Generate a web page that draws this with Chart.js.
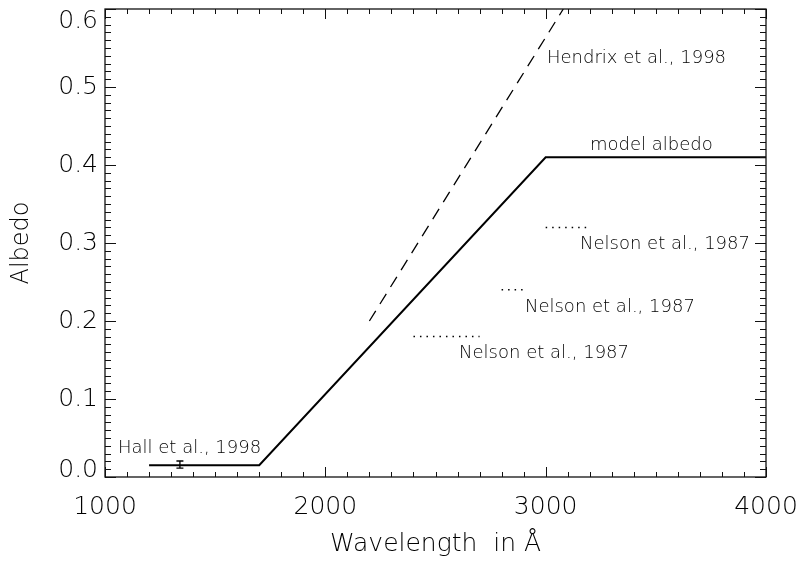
<!DOCTYPE html>
<html>
<head>
<meta charset="utf-8">
<script src="https://cdn.jsdelivr.net/npm/chart.js@4/dist/chart.umd.min.js"></script>
<style>
  html, body { margin: 0; padding: 0; background: #fff; overflow: hidden; }
  #wrap { width: 805px; height: 565px; position: relative; }
</style>
</head>
<body>
<div id="wrap"><canvas id="albedo-chart"></canvas></div>
<script>
// --- Data ---
const modelX = [1200, 1700, 3000, 4000];
const modelY = [0.015, 0.015, 0.41, 0.41];

const hendrixX = [2200, 3080];
const hendrixY = [0.2, 0.6];

const nelsonX1 = [3000, 3200];
const nelsonY1 = [0.32, 0.32];
const nelsonX2 = [2800, 2900];
const nelsonY2 = [0.24, 0.24];
const nelsonX3 = [2400, 2700];
const nelsonY3 = [0.18, 0.18];

const hallX = [1340];
const hallY = [0.016];
const hallErr = [0.0045];

const xTickValues = [1000, 2000, 3000, 4000];
const xTickLabels = ['1000', '2000', '3000', '4000'];
const yTickValues = [0, 0.1, 0.2, 0.3, 0.4, 0.5, 0.6];
const yTickLabels = ['0.0', '0.1', '0.2', '0.3', '0.4', '0.5', '0.6'];

// text labels placed in data coordinates
const notes = [
    { x: 1059, y: 0.037, text: 'Hall et al., 1998' },
    { x: 3006, y: 0.537, text: 'Hendrix et al., 1998' },
    { x: 3201, y: 0.4256, text: 'model albedo' },
    { x: 3156, y: 0.2987, text: 'Nelson et al., 1987' },
    { x: 2906, y: 0.218, text: 'Nelson et al., 1987' },
    { x: 2607, y: 0.158, text: 'Nelson et al., 1987' },
];

const FONT = '"DejaVu Sans", sans-serif';
const pts = (xs, ys) => xs.map((x, i) => ({ x: x, y: ys[i] }));

// --- IDL style frame, inward ticks, y labels, error bar, notes ---
const idlPlugin = {
    id: 'idl',
    afterDatasetsDraw(chart) {
        const { ctx, chartArea: a, scales: { x, y } } = chart;
        ctx.save();
        ctx.strokeStyle = '#111';
        ctx.lineWidth = 1.3;
        ctx.strokeRect(a.left, a.top, a.right - a.left, a.bottom - a.top);

        ctx.beginPath();
        for (let v = 1000; v <= 4000; v += 100) {
            const px = Math.round(x.getPixelForValue(v)) + 0.5;
            const len = v % 1000 === 0 ? 10 : 5;
            ctx.moveTo(px, a.bottom); ctx.lineTo(px, a.bottom - len);
            ctx.moveTo(px, a.top); ctx.lineTo(px, a.top + len);
        }
        for (let i = 0; i <= 60; i++) {
            const py = Math.round(y.getPixelForValue(i / 100)) + 0.5;
            const len = i % 10 === 0 ? 11 : 6;
            ctx.moveTo(a.left, py); ctx.lineTo(a.left + len, py);
            ctx.moveTo(a.right, py); ctx.lineTo(a.right - len, py);
        }
        ctx.lineWidth = 1;
        ctx.stroke();

        // y tick labels, kept inside the axis range like IDL does
        ctx.fillStyle = '#000';
        ctx.font = '200 25px ' + FONT;
        ctx.textAlign = 'right';
        ctx.textBaseline = 'middle';
        yTickValues.forEach((v, i) => {
            const py = Math.min(Math.max(y.getPixelForValue(v), a.top + 12), a.bottom - 7);
            ctx.fillText(yTickLabels[i], a.left - 7, py);
        });

        // Hall et al. error bar
        ctx.beginPath();
        ctx.lineWidth = 1.3;
        ctx.strokeStyle = '#000';
        hallX.forEach((hx, i) => {
            const px = x.getPixelForValue(hx);
            const top = y.getPixelForValue(hallY[i] + hallErr[i]);
            const bot = y.getPixelForValue(hallY[i] - hallErr[i]);
            ctx.moveTo(px, top); ctx.lineTo(px, bot);
            ctx.moveTo(px - 3.5, top); ctx.lineTo(px + 3.5, top);
            ctx.moveTo(px - 3.5, bot); ctx.lineTo(px + 3.5, bot);
        });
        ctx.stroke();

        ctx.fillStyle = '#000';
        ctx.font = '200 18px ' + FONT;
        ctx.textBaseline = 'middle';
        ctx.textAlign = 'left';
        notes.forEach(n => {
            ctx.fillText(n.text, x.getPixelForValue(n.x), y.getPixelForValue(n.y));
        });
        ctx.restore();
    }
};

const lineStyle = { borderColor: '#000', pointRadius: 0, showLine: true, fill: false, tension: 0 };

new Chart(document.getElementById('albedo-chart'), {
    type: 'scatter',
    data: {
        datasets: [
            { ...lineStyle, data: pts(modelX, modelY), borderWidth: 2 },
            { ...lineStyle, data: pts(hendrixX, hendrixY), borderWidth: 1.3, borderDash: [12, 8] },
            { ...lineStyle, data: pts(nelsonX1, nelsonY1), borderWidth: 1.5, borderDash: [1.5, 5] },
            { ...lineStyle, data: pts(nelsonX2, nelsonY2), borderWidth: 1.5, borderDash: [1.5, 5] },
            { ...lineStyle, data: pts(nelsonX3, nelsonY3), borderWidth: 1.5, borderDash: [1.5, 5] },
        ]
    },
    options: {
        responsive: true,
        maintainAspectRatio: false,
        animation: false,
        layout: { padding: { top: 9, right: 39, left: 0, bottom: 0 } },
        plugins: { legend: { display: false }, tooltip: { enabled: false } },
        scales: {
            x: {
                type: 'linear', min: 1000, max: 4000,
                afterBuildTicks: s => { s.ticks = xTickValues.map(v => ({ value: v })); },
                afterFit: s => { s.height = 88; s.paddingLeft = 0; s.paddingRight = 0; },
                grid: { display: false }, border: { display: false },
                ticks: { color: '#000', padding: 7, maxRotation: 0, font: { family: FONT, size: 25, weight: 200 },
                         callback: v => xTickLabels[xTickValues.indexOf(v)] },
                title: { display: true, text: 'Wavelength  in Å', color: '#000',
                         font: { family: FONT, size: 25, weight: 200 }, padding: { top: 0, bottom: 6 } }
            },
            y: {
                type: 'linear', min: 0, max: 0.6,
                afterBuildTicks: s => { s.ticks = yTickValues.map(v => ({ value: v })); },
                ticks: { display: false },
                afterFit: s => { s.width = 105; s.paddingTop = 0; s.paddingBottom = 0; },
                grid: { display: false }, border: { display: false },
                title: { display: true, text: 'Albedo', color: '#000',
                         font: { family: FONT, size: 24, weight: 200 }, padding: { top: 7 } }
            }
        }
    },
    plugins: [idlPlugin]
});
</script>
</body>
</html>
